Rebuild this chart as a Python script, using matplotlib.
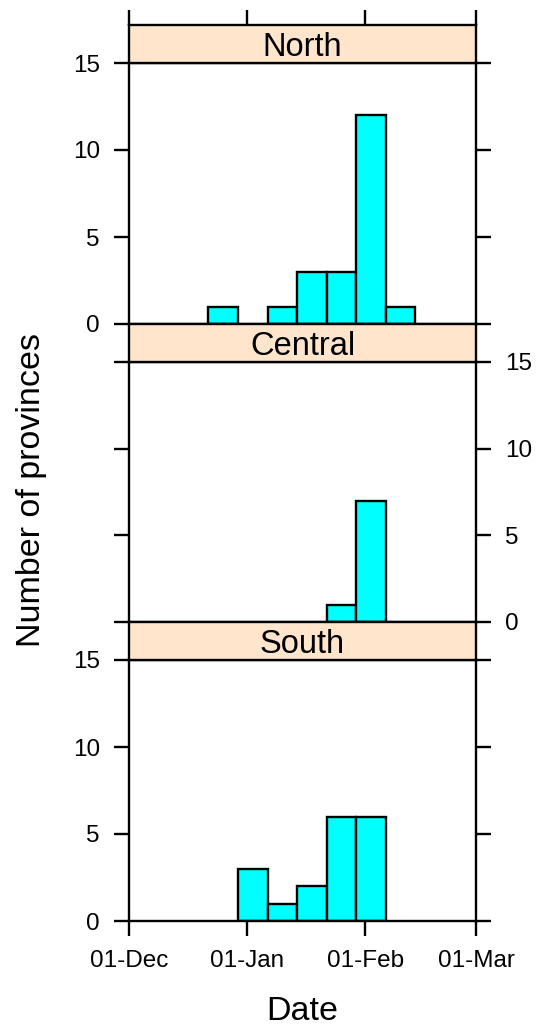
import matplotlib
matplotlib.use("Agg")
import matplotlib.pyplot as plt
import matplotlib.dates as mdates
from datetime import datetime

plt.rcParams["font.family"] = ["Liberation Sans", "DejaVu Sans"]

# ── Histogram data: bin edges (days after 01-Dec-2003) and counts per region ──
START = datetime(2003, 12, 1)
BIN_EDGES_DAYS = [20.8, 28.6, 36.35, 44.0, 51.8, 59.6, 67.35, 75.1]
REGIONS = ["North", "Central", "South"]
COUNTS_NORTH = [1, 0, 1, 3, 3, 12, 1]
COUNTS_CENTRAL = [0, 0, 0, 0, 1, 7, 0]
COUNTS_SOUTH = [0, 3, 1, 2, 6, 6, 0]
COUNTS = [COUNTS_NORTH, COUNTS_CENTRAL, COUNTS_SOUTH]

X_TICKS = [datetime(2003, 12, 1), datetime(2004, 1, 1),
           datetime(2004, 2, 1), datetime(2004, 3, 1)]
Y_TICKS = [0, 5, 10, 15]

# ── Style ─────────────────────────────────────────────────────────────────────
C = dict(bar="#00FFFF", strip="#FFE5CC", line="black")
LW = 1.7
TICK_LEN = 11
TICK_FS = 17.5
STRIP_FS = 23.5
LABEL_FS = 24.5

W, H = 539, 1029
fig = plt.figure(figsize=(W / 100, H / 100), dpi=100, facecolor="white")

# panel geometry in pixels: (strip top, strip bottom / plot top, plot bottom)
PANELS_PX = [(25, 63, 324), (324, 362, 622), (622, 660, 921)]
X0_PX, X1_PX = 129, 476

t0 = mdates.date2num(START)
edges = [t0 + d for d in BIN_EDGES_DAYS]
lefts = edges[:-1]
widths = [b - a for a, b in zip(edges[:-1], edges[1:])]
xlim = (mdates.date2num(X_TICKS[0]), mdates.date2num(X_TICKS[-1]))


def frac_box(top_px, bottom_px):
    return [X0_PX / W, (H - bottom_px) / H,
            (X1_PX - X0_PX) / W, (bottom_px - top_px) / H]


for i, (name, counts, (s_top, p_top, p_bot)) in enumerate(zip(REGIONS, COUNTS, PANELS_PX)):
    ax = fig.add_axes(frac_box(p_top, p_bot))
    strip = fig.add_axes(frac_box(s_top, p_top))

    # bars
    for x, w, c in zip(lefts, widths, counts):
        if c > 0:
            ax.bar(x, c, width=w, align="edge", color=C["bar"],
                   edgecolor=C["line"], linewidth=LW, zorder=2)

    ax.set_xlim(*xlim)
    ax.set_ylim(0, 15)
    for sp in ax.spines.values():
        sp.set_linewidth(LW)
        sp.set_zorder(3)

    # alternating y-axis labels: left, right, left
    lab_left = (i % 2 == 0)
    ax.set_yticks(Y_TICKS)
    ax.tick_params(axis="y", which="both", direction="out", length=TICK_LEN,
                   width=LW, left=True, right=True,
                   labelleft=lab_left, labelright=not lab_left,
                   labelsize=TICK_FS, pad=10)

    ax.set_xticks([mdates.date2num(d) for d in X_TICKS])
    ax.xaxis.set_major_formatter(mdates.DateFormatter("%d-%b"))
    last = (i == len(REGIONS) - 1)
    ax.tick_params(axis="x", direction="out", length=TICK_LEN if last else 0,
                   width=LW, bottom=last, top=False,
                   labelbottom=last, labelsize=TICK_FS, pad=10)

    # strip
    strip.set_facecolor(C["strip"])
    strip.set_xlim(*xlim)
    strip.set_ylim(0, 1)
    strip.set_yticks([])
    for sp in strip.spines.values():
        sp.set_linewidth(LW)
    if i == 0:
        strip.set_xticks([mdates.date2num(d) for d in X_TICKS])
        strip.tick_params(axis="x", direction="out", length=TICK_LEN, width=LW,
                          top=True, bottom=False, labeltop=False, labelbottom=False)
    else:
        strip.set_xticks([])
    strip.text(0.5, 0.4, name, transform=strip.transAxes, ha="center",
               va="center", fontsize=STRIP_FS)

fig.text(32 / W, (H - 490) / H, "Number of provinces", rotation=90,
         ha="center", va="center", fontsize=LABEL_FS)
fig.text((X0_PX + X1_PX) / 2 / W, (H - 1012) / H, "Date",
         ha="center", va="center", fontsize=LABEL_FS)

fig.savefig("out.png", dpi=100, facecolor="white")
